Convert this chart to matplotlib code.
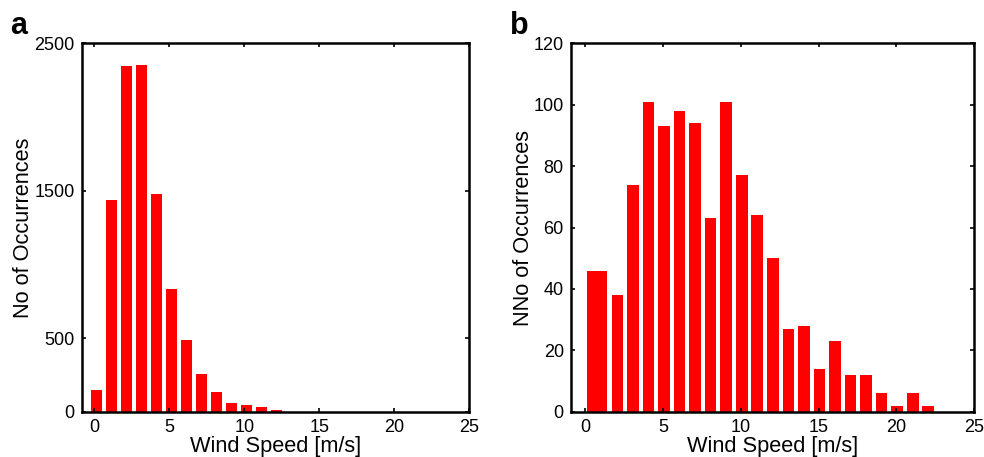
import numpy as np
import matplotlib.pyplot as plt

plt.rcParams['font.family'] = ['Liberation Sans', 'DejaVu Sans']

# panel a: wind speed histogram (site a)
speeds_a = [0, 1, 2, 3, 4, 5, 6, 7, 8, 9, 10, 11, 12]
counts_a = [147, 1437, 2346, 2353, 1477, 833, 486, 256, 133, 59, 45, 32, 14]

# panel b: wind speed histogram (site b), first bin is wider
speeds_b = [0.71, 2, 3, 4, 5, 6, 7, 8, 9, 10, 11, 12, 13, 14, 15, 16, 17, 18, 19, 20, 21, 22]
counts_b = [46, 38, 74, 101, 93, 98, 94, 63, 101, 77, 64, 50, 27, 28, 14, 23, 12, 12, 6, 2, 6, 2]

xticks = [0, 5, 10, 15, 20, 25]
yticks_a = [0, 500, 1500, 2500]
yticks_b = [0, 20, 40, 60, 80, 100, 120]

fig = plt.figure(figsize=(9.84, 4.57), dpi=100)
ax1 = fig.add_axes([0.083, 0.099, 0.394, 0.806])
ax2 = fig.add_axes([0.580, 0.099, 0.410, 0.806])

ax1.bar(np.array(speeds_a) + 0.15, counts_a, width=0.71, color='#ff0000', linewidth=0)
widths_b = [1.3] + [0.75] * (len(speeds_b) - 1)
ax2.bar(np.array(speeds_b) + 0.05, counts_b, width=widths_b, color='#ff0000', linewidth=0)

ax1.set_xlim(-0.84, 25)
ax1.set_ylim(0, 2500)
ax1.set_yticks(yticks_a)
ax1.set_ylabel('No of Occurrences', fontsize=15.7, labelpad=0)

ax2.set_xlim(-0.95, 25)
ax2.set_ylim(0, 120)
ax2.set_yticks(yticks_b)
ax2.set_ylabel('NNo of Occurrences', fontsize=15.7, labelpad=0)

for ax in (ax1, ax2):
    ax.set_xticks(xticks)
    ax.set_xlabel('Wind Speed [m/s]', fontsize=15.7, labelpad=0)
    ax.tick_params(direction='in', length=3, width=1.2, top=True, right=True,
                   labelsize=13, pad=5)
    for s in ax.spines.values():
        s.set_linewidth(1.8)

fig.text(0.010, 0.925, 'a', fontsize=22, fontweight='bold')
fig.text(0.518, 0.925, 'b', fontsize=22, fontweight='bold')

fig.savefig('out.png', dpi=100)
